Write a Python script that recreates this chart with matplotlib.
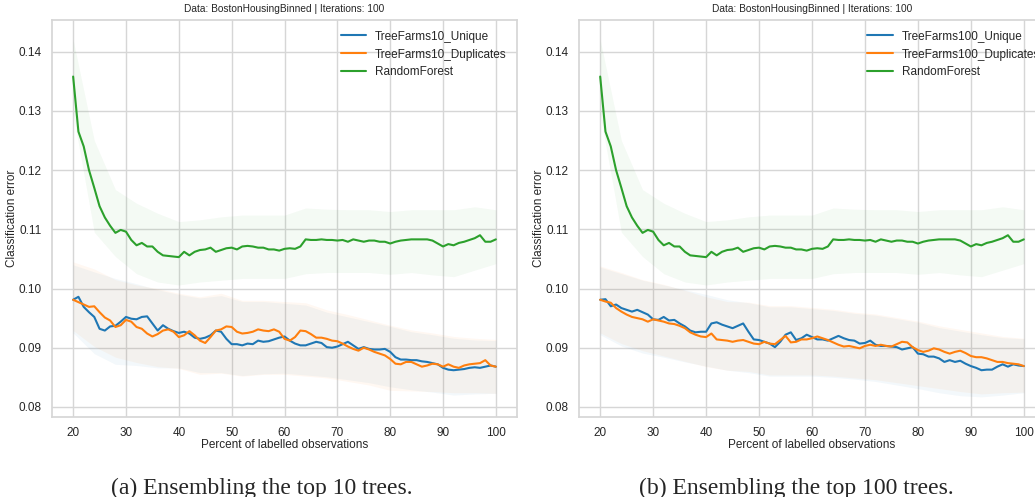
import numpy as np
import matplotlib
matplotlib.use("Agg")
import matplotlib.pyplot as plt
import seaborn as sns

# ---------------- data ----------------
pct = list(range(20, 101))

unique10 = [.0981,.0986,.0969,.0960,.0952,.0932,.0929,.0936,.0937,.0944,
            .0952,.0949,.0948,.0952,.0953,.0941,.0929,.0938,.0932,.0928,
            .0925,.0927,.0924,.0917,.0915,.0917,.0921,.0929,.0927,.0915,
            .0906,.0906,.0904,.0907,.0906,.0912,.0910,.0911,.0914,.0917,
            .0919,.0912,.0907,.0904,.0904,.0907,.0910,.0908,.0901,.0900,
            .0902,.0906,.0910,.0904,.0898,.0901,.0898,.0897,.0897,.0898,
            .0893,.0884,.0880,.0880,.0879,.0879,.0877,.0876,.0874,.0872,
            .0866,.0863,.0862,.0863,.0864,.0866,.0867,.0866,.0868,.0870,
            .0868]
dup10 = [.0981,.0977,.0973,.0969,.0970,.0960,.0951,.0946,.0935,.0938,
         .0947,.0944,.0935,.0932,.0924,.0919,.0923,.0929,.0931,.0927,
         .0918,.0921,.0928,.0921,.0912,.0908,.0918,.0929,.0931,.0936,
         .0935,.0927,.0924,.0925,.0927,.0931,.0929,.0928,.0931,.0927,
         .0915,.0912,.0918,.0929,.0928,.0923,.0917,.0917,.0915,.0912,
         .0911,.0907,.0902,.0898,.0895,.0900,.0897,.0893,.0890,.0887,
         .0881,.0873,.0872,.0876,.0876,.0872,.0868,.0870,.0873,.0872,
         .0868,.0872,.0868,.0866,.0870,.0872,.0873,.0874,.0879,.0870,
         .0868]
rf = [.1358,.1265,.1240,.1200,.1170,.1139,.1120,.1106,.1094,.1099,
      .1096,.1082,.1073,.1077,.1071,.1071,.1062,.1056,.1055,.1054,
      .1053,.1062,.1056,.1062,.1065,.1066,.1069,.1062,.1065,.1068,
      .1069,.1066,.1071,.1072,.1071,.1069,.1069,.1066,.1066,.1064,
      .1067,.1068,.1067,.1071,.1083,.1082,.1082,.1083,.1082,.1082,
      .1081,.1082,.1079,.1083,.1081,.1079,.1081,.1081,.1079,.1079,
      .1076,.1079,.1081,.1082,.1083,.1083,.1083,.1083,.1081,.1076,
      .1071,.1075,.1073,.1077,.1079,.1082,.1085,.1090,.1079,.1079,
      .1083]
unique100 = [.0981,.0982,.0970,.0973,.0967,.0964,.0961,.0964,.0960,.0956,
             .0948,.0947,.0952,.0946,.0947,.0941,.0936,.0929,.0926,.0927,
             .0927,.0941,.0943,.0939,.0936,.0933,.0937,.0941,.0927,.0914,
             .0913,.0910,.0907,.0901,.0910,.0922,.0926,.0913,.0916,.0922,
             .0918,.0914,.0914,.0912,.0916,.0920,.0916,.0913,.0912,.0907,
             .0908,.0912,.0905,.0903,.0903,.0902,.0901,.0897,.0899,.0901,
             .0890,.0889,.0885,.0885,.0882,.0876,.0879,.0876,.0878,.0873,
             .0869,.0866,.0862,.0863,.0863,.0868,.0872,.0868,.0872,.0870,
             .0869]
dup100 = [.0981,.0978,.0976,.0967,.0961,.0956,.0952,.0950,.0948,.0944,
          .0948,.0946,.0944,.0941,.0940,.0937,.0933,.0926,.0922,.0919,
          .0918,.0924,.0914,.0913,.0912,.0910,.0912,.0913,.0910,.0907,
          .0906,.0910,.0907,.0906,.0913,.0920,.0909,.0910,.0914,.0914,
          .0916,.0919,.0916,.0913,.0909,.0905,.0902,.0903,.0901,.0899,
          .0903,.0905,.0903,.0905,.0903,.0902,.0906,.0910,.0909,.0901,
          .0896,.0893,.0895,.0899,.0897,.0893,.0890,.0893,.0895,.0891,
          .0886,.0884,.0884,.0882,.0879,.0876,.0876,.0874,.0873,.0872,
          .0869]

# spread bands (sampled every 4 percent)
band_pct = list(range(20, 101, 4))
unique10_hi = [.1040,.1028,.1017,.1008,.0998,.0990,.0984,.0988,.0978,.0978,.0975,
               .0972,.0960,.0952,.0944,.0936,.0927,.0922,.0916,.0913,.0912]
unique10_lo = [.0925,.0890,.0872,.0870,.0866,.0866,.0858,.0858,.0853,.0856,.0857,
               .0854,.0851,.0846,.0841,.0834,.0829,.0825,.0820,.0822,.0823]
dup10_hi = [.1045,.1033,.1015,.1006,.1000,.0992,.0986,.0992,.0980,.0980,.0978,
            .0976,.0964,.0956,.0947,.0938,.0930,.0925,.0919,.0916,.0914]
dup10_lo = [.0929,.0902,.0884,.0875,.0868,.0865,.0855,.0857,.0852,.0855,.0855,
            .0852,.0849,.0843,.0837,.0828,.0827,.0826,.0824,.0824,.0823]
unique100_hi = [.1036,.1025,.1014,.1006,.0998,.0990,.0981,.0976,.0969,.0969,.0966,
                .0963,.0958,.0955,.0949,.0943,.0934,.0928,.0922,.0917,.0915]
unique100_lo = [.0922,.0903,.0891,.0884,.0876,.0869,.0862,.0858,.0852,.0852,.0852,
                .0850,.0847,.0843,.0837,.0831,.0824,.0819,.0817,.0820,.0824]
dup100_hi = [.1038,.1027,.1015,.1007,.0997,.0986,.0978,.0977,.0971,.0971,.0968,
             .0965,.0960,.0957,.0951,.0945,.0937,.0931,.0925,.0919,.0916]
dup100_lo = [.0925,.0907,.0895,.0886,.0877,.0868,.0862,.0860,.0854,.0854,.0854,
             .0852,.0849,.0846,.0841,.0836,.0831,.0826,.0822,.0824,.0825]
rf_hi = [.1420,.1250,.1167,.1144,.1127,.1113,.1116,.1121,.1124,.1124,.1124,
         .1136,.1134,.1133,.1133,.1130,.1133,.1133,.1133,.1138,.1133]
rf_lo = [.1295,.1095,.1054,.1025,.1011,.1006,.1011,.1014,.1017,.1017,.1017,
         .1025,.1027,.1027,.1027,.1024,.1027,.1023,.1020,.1031,.1042]

xticks = [20, 30, 40, 50, 60, 70, 80, 90, 100]
yticks = [0.08, 0.09, 0.10, 0.11, 0.12, 0.13, 0.14]
title = "Data: BostonHousingBinned | Iterations: 100"
captions = ["(a) Ensembling the top 10 trees.", "(b) Ensembling the top 100 trees."]

# ---------------- style ----------------
sns.set_style("whitegrid")
plt.rcParams['font.family'] = ['Liberation Sans', 'DejaVu Sans']

C0, C1, C2 = "#1f77b4", "#ff7f0e", "#2ca02c"

fig = plt.figure(figsize=(10.35, 4.97), dpi=100)
W, H = 1035, 497
ax1 = fig.add_axes([52 / W, 1 - 417 / H, 465 / W, 397 / H])
ax2 = fig.add_axes([579 / W, 1 - 417 / H, 466 / W, 397 / H])

panels = [
    (ax1, unique10, dup10, unique10_lo, unique10_hi, dup10_lo, dup10_hi,
     "TreeFarms10_Unique", "TreeFarms10_Duplicates", 1.0),
    (ax2, unique100, dup100, unique100_lo, unique100_hi, dup100_lo, dup100_hi,
     "TreeFarms100_Unique", "TreeFarms100_Duplicates", 1.012),
]

for ax, u, d, ulo, uhi, dlo, dhi, lu, ld, lx in panels:
    ax.fill_between(band_pct, ulo, uhi, color=C0, alpha=0.05, lw=0, zorder=1)
    ax.fill_between(band_pct, dlo, dhi, color=C1, alpha=0.05, lw=0, zorder=1)
    ax.fill_between(band_pct, rf_lo, rf_hi, color=C2, alpha=0.05, lw=0, zorder=1)
    ax.plot(pct, u, color=C0, lw=1.5, label=lu, zorder=3)
    ax.plot(pct, d, color=C1, lw=1.5, label=ld, zorder=3)
    ax.plot(pct, rf, color=C2, lw=1.5, label="RandomForest", zorder=3)
    ax.set_xlim(16, 104)
    ax.set_ylim(0.0783, 0.14535)
    ax.set_xticks(xticks)
    ax.set_yticks(yticks)
    ax.set_yticklabels([f"{v:.2f}" for v in yticks])
    ax.tick_params(labelsize=8.5, colors="#262626", pad=4)
    ax.set_title(title, fontsize=7.3, color="#262626", pad=6)
    ax.set_xlabel("Percent of labelled observations", fontsize=8.5, color="#262626", labelpad=0)
    ax.set_ylabel("Classification error", fontsize=8.5, color="#262626")
    ax.yaxis.set_label_coords(-0.073, 0.5)
    ax.grid(True, color="#d6d6d6", lw=1)
    for s in ax.spines.values():
        s.set_color("#d6d6d6")
        s.set_linewidth(1.25)
    ax.legend(loc="upper right", bbox_to_anchor=(lx, 1.0), frameon=False, fontsize=8.5,
              labelspacing=0.5, handlelength=2.2, handletextpad=0.7)

fig.text(262 / W, 1 - 494 / H, captions[0], ha="center", va="baseline",
         fontsize=17, family=["Liberation Serif", "DejaVu Serif"])
fig.text(796 / W, 1 - 494 / H, captions[1], ha="center", va="baseline",
         fontsize=17, family=["Liberation Serif", "DejaVu Serif"])

fig.savefig("out.png", dpi=100)
